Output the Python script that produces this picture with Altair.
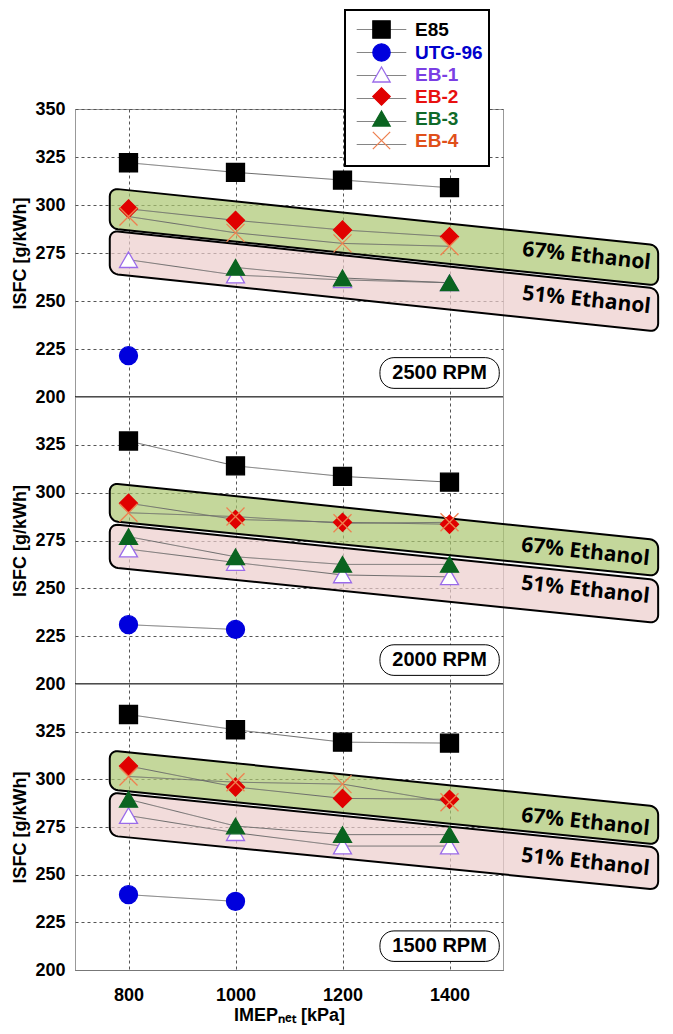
import math
import altair as alt
import pandas as pd

# ---------------- data ----------------
x_vals = [800, 1000, 1200, 1400]
series_names = ["E85", "UTG-96", "EB-1", "EB-2", "EB-3", "EB-4"]
rpm_labels = ["2500 RPM", "2000 RPM", "1500 RPM"]

isfc_2500 = {
    "E85": [322, 317, 313, 309],
    "UTG-96": [221.5, None, None, None],
    "EB-1": [271.5, 263.5, 261, 259.5],
    "EB-2": [298, 292, 287, 283.5],
    "EB-3": [None, 267.5, 262, 259.5],
    "EB-4": [294, 285.5, 280, 278.5],
}
isfc_2000 = {
    "E85": [327, 314, 308.5, 305.5],
    "UTG-96": [231, 228.5, None, None],
    "EB-1": [270.5, 263.5, 257, 256],
    "EB-2": [294.5, 286, 284.5, 283.5],
    "EB-3": [277, 266.5, 262.5, 262.5],
    "EB-4": [289.5, 287.5, 284, 284.5],
}
isfc_1500 = {
    "E85": [334, 326, 319.5, 319],
    "UTG-96": [239.5, 236, None, None],
    "EB-1": [281, 272, 265, 265],
    "EB-2": [307, 296, 290, 289.5],
    "EB-3": [289.5, 275.5, 271, 271],
    "EB-4": [301.5, 298.5, 297.5, 288],
}
panel_data = [isfc_2500, isfc_2000, isfc_1500]

# annotation bands (ISFC values at left / right end of each band)
band_x = [765, 1790]
green_top = [[308.7, 279.0], [305.0, 275.2], [315.2, 285.7]]
green_bot = [[287.8, 258.0], [285.2, 256.4], [294.7, 265.8]]
pink_top = [[286.7, 256.4], [283.6, 254.3], [293.1, 264.2]]
pink_bot = [[264.3, 234.0], [261.1, 231.8], [270.5, 242.1]]
band_labels = ["67% Ethanol", "51% Ethanol"]
band_label_x = [1656, 1654, 1654]
green_label_y = [273.2, 268.8, 277.4]
pink_label_y = [250.3, 249.0, 256.4]

rpm_box_x = [1270, 1493]
rpm_box_y = [204.5, 220.5]
panel_floor = 200

# ---------------- styles ----------------
marker_shapes = ["square", "circle", "triangle-up", "diamond", "triangle-up",
                 "M-1,-1L1,1M-1,1L1,-1"]
marker_fills = ["#000000", "#0000DD", "#FFFFFF", "#E00000", "#0A6420", "transparent"]
marker_strokes = ["#000000", "#0000DD", "#9A6BEA", "#E00000", "#0A6420", "#EE8050"]
label_colors = ["#000000", "#0000CC", "#7A3FE4", "#E81010", "#0F6A2A", "#E0501A"]
LINE_GREY = "#6A6A6A"
# legend line sample; the two trailing move-to points only widen the box
LEGEND_LINE_PATH = "M-2.75,0H2.75M10.6,-1.0M10.6,1.0"

label_expr = ""
for n, c in zip(series_names, label_colors):
    label_expr += f"datum.value === '{n}' ? '{c}' : "
label_expr += "'#000000'"

FONT = "Liberation Sans"
LEG_X, LEG_Y = 270, -99


def band_rows(top, bot, rx=15.0, ry=4.2):
    x0, x1 = band_x

    def T(x):
        return top[0] + (top[1] - top[0]) * (x - x0) / (x1 - x0)

    def B(x):
        return bot[0] + (bot[1] - bot[0]) * (x - x0) / (x1 - x0)

    angles = [180, 165, 150, 135, 120, 105, 90]
    rows = []
    for a in angles:
        t = math.radians(a)
        dx = rx * (1 + math.cos(t))
        off = ry * (1 - math.sin(t))
        x = x0 + dx
        rows.append({"x": x, "y": T(x) - off, "y2": B(x) + off})
    for a in reversed(angles):
        t = math.radians(a)
        dx = rx * (1 + math.cos(t))
        off = ry * (1 - math.sin(t))
        x = x1 - dx
        rows.append({"x": x, "y": T(x) - off, "y2": B(x) + off})
    return pd.DataFrame(rows)


def make_panel(i, height):
    data = panel_data[i]
    rows = []
    for k, name in enumerate(series_names):
        for xv, yv in zip(x_vals, data[name]):
            if yv is not None:
                rows.append({"x": xv, "y": yv, "series": name, "grp": name, "k": k})
    df = pd.DataFrame(rows)

    last = i == 2
    if last:
        xaxis = alt.Axis(values=x_vals, format="d", title="IMEPₙₑₜ [kPa]",
                         labelPadding=16, titlePadding=2, ticks=False,
                         domainColor="#777777", grid=True)
    else:
        xaxis = alt.Axis(values=x_vals, labels=False, title=None, ticks=False,
                         domain=False, grid=True)
    yvals = [200, 225, 250, 275, 300, 325, 350] if i == 0 else [200, 225, 250, 275, 300, 325]
    yaxis = alt.Axis(values=yvals, title="ISFC [g/kWh]", titlePadding=5,
                     labelPadding=10, ticks=False, domain=False, grid=True)

    xs = alt.Scale(domain=[700, 1500], nice=False)
    ys = alt.Scale(domain=[200, 350], nice=False)
    X = alt.X("x:Q", scale=xs, axis=xaxis)
    Y = alt.Y("y:Q", scale=ys, axis=yaxis)

    green = alt.Chart(band_rows(green_top[i], green_bot[i])).mark_area(
        fill="#ABC670", fillOpacity=0.7, stroke="black", strokeWidth=2,
        strokeOpacity=1, clip=False
    ).encode(x=X, y=Y, y2="y2:Q")
    pink = alt.Chart(band_rows(pink_top[i], pink_bot[i])).mark_area(
        fill="#ECCDCC", fillOpacity=0.7, stroke="black", strokeWidth=2,
        strokeOpacity=1, clip=False
    ).encode(x=X, y=Y, y2="y2:Q")

    sort_dom = series_names
    if i == 0:
        # background legend: white box + grey line samples (no labels)
        line_leg = alt.Legend(orient="none", legendX=LEG_X, legendY=LEG_Y, title=None,
                              fillColor="white", strokeColor="black", padding=10,
                              symbolType=LEGEND_LINE_PATH, symbolSize=324,
                              symbolStrokeWidth=1, symbolStrokeColor=LINE_GREY,
                              symbolFillColor="transparent",
                              labelFont=FONT, labelFontSize=19, labelFontWeight="bold",
                              labelExpr="''",
                              symbolOffset=17, labelOffset=24,
                              rowPadding=0, zindex=1)
        leg = alt.Legend(orient="none", legendX=LEG_X, legendY=LEG_Y, title=None,
                         padding=10, symbolSize=300, symbolStrokeWidth=1.3,
                         labelFont=FONT, labelFontSize=19, labelFontWeight="bold",
                         labelColor={"expr": label_expr}, symbolOffset=17,
                         labelOffset=24, rowPadding=0, zindex=2)
    else:
        line_leg = None
        leg = None

    lines = alt.Chart(df).mark_line(color=LINE_GREY, strokeWidth=1).encode(
        x=X, y=Y, detail="series:N", order="x:Q",
        strokeDash=alt.StrokeDash("grp:N", scale=alt.Scale(domain=sort_dom,
                                                          range=[[1, 0]] * 6),
                                  legend=line_leg, sort=sort_dom))

    pts = alt.Chart(df).mark_point(filled=True, size=324, strokeWidth=1.3,
                                   opacity=1).encode(
        x=X, y=Y,
        shape=alt.Shape("series:N", scale=alt.Scale(domain=sort_dom, range=marker_shapes),
                        legend=leg, sort=sort_dom),
        fill=alt.Fill("series:N", scale=alt.Scale(domain=sort_dom, range=marker_fills),
                      legend=leg, sort=sort_dom),
        stroke=alt.Stroke("series:N", scale=alt.Scale(domain=sort_dom, range=marker_strokes),
                          legend=leg, sort=sort_dom),
        order="k:Q",
    )

    txt_df = pd.DataFrame({
        "x": [band_label_x[i], band_label_x[i]],
        "y": [green_label_y[i], pink_label_y[i]],
        "t": band_labels,
    })
    band_txt = alt.Chart(txt_df).mark_text(
        font="Open Sans", fontSize=21, fontWeight="bold", angle=6, color="black",
        clip=False
    ).encode(x=X, y=Y, text="t:N")

    box_df = pd.DataFrame({"x": [rpm_box_x[0]], "x2": [rpm_box_x[1]],
                           "y": [rpm_box_y[0]], "y2": [rpm_box_y[1]],
                           "xc": [(rpm_box_x[0] + rpm_box_x[1]) / 2],
                           "yc": [(rpm_box_y[0] + rpm_box_y[1]) / 2],
                           "t": [rpm_labels[i]]})
    box = alt.Chart(box_df).mark_rect(fill="white", stroke="black", strokeWidth=1,
                                      cornerRadius=14).encode(
        x=X, x2="x2:Q", y=Y, y2="y2:Q")
    box_txt = alt.Chart(box_df).mark_text(font=FONT, fontSize=20, fontWeight="bold",
                                          color="black").encode(
        x=alt.X("xc:Q", scale=xs, axis=xaxis),
        y=alt.Y("yc:Q", scale=ys, axis=yaxis), text="t:N")

    layers = [green, pink, lines, pts, band_txt, box, box_txt]
    if not last:
        floor = alt.Chart(pd.DataFrame({"y": [panel_floor]})).mark_rule(
            color="#111111", strokeWidth=1.5).encode(y=Y)
        layers.append(floor)

    layer = alt.layer(*layers).properties(width=428, height=height)
    return layer.resolve_scale(shape="independent", fill="independent",
                               stroke="independent", strokeDash="independent")


p1 = make_panel(0, 288)
p2 = make_panel(1, 287)
p3 = make_panel(2, 286)

chart = alt.vconcat(p1, p2, p3, spacing=0, bounds="flush").resolve_scale(
    shape="independent", fill="independent", stroke="independent",
    strokeDash="independent"
).resolve_legend(shape="independent", fill="independent", stroke="independent",
                 strokeDash="independent"
).properties(
    padding={"left": 3, "top": 0, "right": 0, "bottom": 0}
).configure_view(
    stroke="#999999", strokeWidth=1
).configure_axis(
    labelFont=FONT, labelFontSize=18, labelFontWeight="bold", labelColor="black",
    titleFont=FONT, titleFontSize=18, titleFontWeight="bold", titleColor="black",
    gridColor="#555555", gridDash=[3, 3], gridWidth=1, tickSize=0
).configure_legend(strokeWidth=2)

chart.save("out.html", embed_options={"renderer": "svg", "actions": False})
